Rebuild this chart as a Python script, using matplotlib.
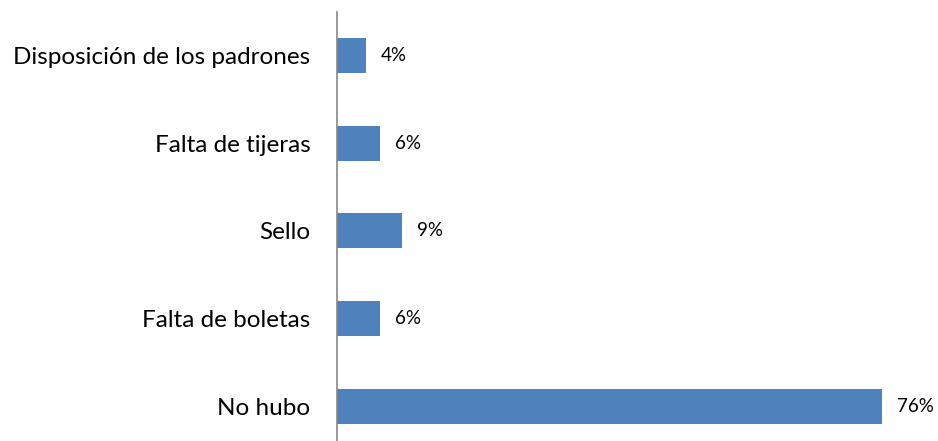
import matplotlib.pyplot as plt

# datos de la grafica (de arriba hacia abajo)
categorias = ['Disposición de los padrones', 'Falta de tijeras', 'Sello',
              'Falta de boletas', 'No hubo']
valores = [4, 6, 9, 6, 76]

plt.rcParams['font.family'] = ['Lato', 'DejaVu Sans']

fig = plt.figure(figsize=(9.38, 4.41), dpi=100)
ax = fig.add_axes([337 / 938, -0.02, 0.612, 0.993])

pos = list(range(len(categorias)))
ax.barh(pos, valores, height=0.4, color='#4f81bd')
ax.set_ylim(len(categorias) - 0.5, -0.5)
ax.set_xlim(0, 80)

for p, v in zip(pos, valores):
    ax.text(v + 2.1, p, '%d%%' % v, va='center', ha='left', fontsize=13.5)

ax.set_yticks(pos)
ax.set_yticklabels(categorias, fontsize=17.5)
ax.tick_params(axis='y', length=0, pad=19)
ax.set_xticks([])
for s in ['top', 'right', 'bottom']:
    ax.spines[s].set_visible(False)
ax.spines['left'].set_color('#868686')
ax.spines['left'].set_linewidth(1.2)

fig.savefig('out.png', dpi=100)
